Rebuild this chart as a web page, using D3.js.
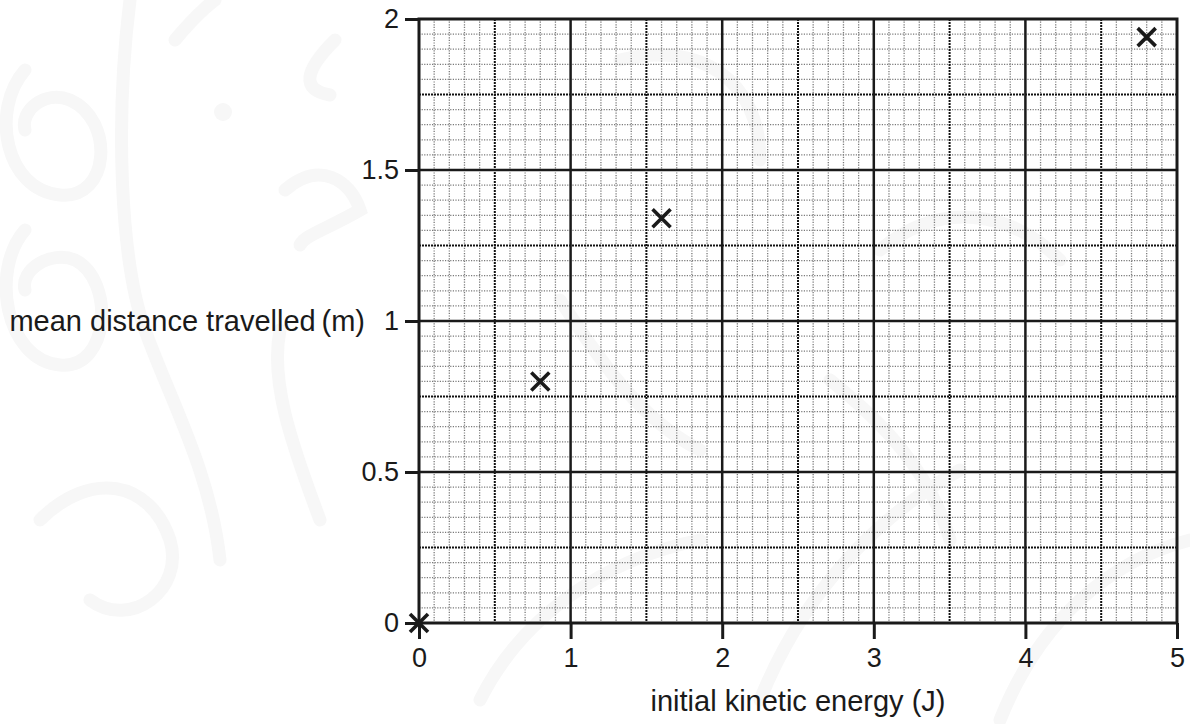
<!DOCTYPE html>
<html>
<head>
<meta charset="utf-8">
<script src="https://cdn.jsdelivr.net/npm/d3@7"></script>
<style>
  html, body { margin: 0; padding: 0; background: #fff; }
  svg { display: block; font-family: "Liberation Sans", Arial, sans-serif; }
</style>
</head>
<body>
<svg id="chart" width="1190" height="724"></svg>
<script>
// Measurements: initial kinetic energy (J) against mean distance travelled (m)
const energy   = [0, 0.8, 1.6, 4.8];
const distance = [0, 0.8, 1.34, 1.94];

const xTickValues = [0, 1, 2, 3, 4, 5];
const xTickLabels = ["0", "1", "2", "3", "4", "5"];
const yTickValues = [0, 0.5, 1, 1.5, 2];
const yTickLabels = ["0", "0.5", "1", "1.5", "2"];

const xTitle = "initial kinetic energy (J)";
const yTitle = "mean distance travelled\u2009(m)";

const svg = d3.select("#chart");
const plot = { left: 419, top: 19, right: 1177, bottom: 623 };

const x = d3.scaleLinear().domain([0, 5]).range([plot.left, plot.right]);
const y = d3.scaleLinear().domain([0, 2]).range([plot.bottom, plot.top]);

// faint decorative background swirls
const deco = svg.append("g")
  .attr("fill", "none")
  .attr("stroke", "#f7f7f7")
  .attr("stroke-width", 13)
  .attr("stroke-linecap", "round");
[
  "M25,70 C-10,110 5,190 60,195 C110,200 115,120 70,100 C45,90 20,110 25,130",
  "M25,230 C-10,270 5,360 60,365 C110,370 115,280 75,260 C50,250 20,270 25,290",
  "M130,0 C115,120 120,260 145,330 C170,400 210,470 220,560",
  "M335,40 C305,70 300,90 330,95",
  "M285,190 C320,160 350,180 360,210 C325,230 305,235 300,245",
  "M280,330 C270,380 290,440 320,520",
  "M175,40 C200,10 215,0 215,0",
  "M480,700 C520,620 600,560 700,540",
  "M760,700 C800,600 870,520 960,470",
  "M1000,720 C1040,620 1110,560 1190,540",
  "M620,60 C700,40 760,80 760,160",
  "M880,250 C940,200 1010,210 1060,260",
  "M560,300 C600,360 640,420 700,450",
  "M830,380 C880,420 930,470 950,540",
  "M40,520 C90,470 150,480 170,540 C185,590 130,630 90,600"
].forEach(d => deco.append("path").attr("d", d));
deco.append("circle").attr("cx", 223).attr("cy", 112).attr("r", 9)
  .attr("fill", "#f7f7f7").attr("stroke", "none");

const grid = svg.append("g");

// minor grid: every 0.1 J and every 0.05 m
const minorX = d3.range(1, 50).map(i => i / 10).filter(v => Math.abs(v * 2 - Math.round(v * 2)) > 1e-6);
const minorY = d3.range(1, 40).map(i => i / 20).filter(v => Math.abs(v * 4 - Math.round(v * 4)) > 1e-6);
grid.selectAll("line.minx").data(minorX).join("line")
  .attr("x1", d => x(d)).attr("x2", d => x(d))
  .attr("y1", plot.top).attr("y2", plot.bottom)
  .attr("stroke", "#7a7a7a").attr("stroke-width", 1.3).attr("stroke-dasharray", "1.2,1.4");
grid.selectAll("line.miny").data(minorY).join("line")
  .attr("y1", d => y(d)).attr("y2", d => y(d))
  .attr("x1", plot.left).attr("x2", plot.right)
  .attr("stroke", "#7a7a7a").attr("stroke-width", 1.3).attr("stroke-dasharray", "1.2,1.4");

// medium grid: every 0.5 J and every 0.25 m
const midX = [0.5, 1.5, 2.5, 3.5, 4.5];
const midY = [0.25, 0.75, 1.25, 1.75];
grid.selectAll("line.midx").data(midX).join("line")
  .attr("x1", d => x(d)).attr("x2", d => x(d))
  .attr("y1", plot.top).attr("y2", plot.bottom)
  .attr("stroke", "#111").attr("stroke-width", 2).attr("stroke-dasharray", "2,1");
grid.selectAll("line.midy").data(midY).join("line")
  .attr("y1", d => y(d)).attr("y2", d => y(d))
  .attr("x1", plot.left).attr("x2", plot.right)
  .attr("stroke", "#111").attr("stroke-width", 2).attr("stroke-dasharray", "2,1");

// major grid: every 1 J and every 0.5 m
grid.selectAll("line.majx").data(xTickValues.slice(1, -1)).join("line")
  .attr("x1", d => x(d)).attr("x2", d => x(d))
  .attr("y1", plot.top).attr("y2", plot.bottom)
  .attr("stroke", "#1a1a1a").attr("stroke-width", 2.5);
grid.selectAll("line.majy").data(yTickValues.slice(1, -1)).join("line")
  .attr("y1", d => y(d)).attr("y2", d => y(d))
  .attr("x1", plot.left).attr("x2", plot.right)
  .attr("stroke", "#1a1a1a").attr("stroke-width", 2.5);

// frame
svg.append("rect")
  .attr("x", plot.left).attr("y", plot.top)
  .attr("width", plot.right - plot.left).attr("height", plot.bottom - plot.top)
  .attr("fill", "none").attr("stroke", "#1a1a1a").attr("stroke-width", 3);

// axes with outward ticks
const xAxis = d3.axisBottom(x).tickValues(xTickValues)
  .tickFormat((d, i) => xTickLabels[i]).tickSize(16).tickPadding(9);
const yAxis = d3.axisLeft(y).tickValues(yTickValues)
  .tickFormat((d, i) => yTickLabels[i]).tickSize(14).tickPadding(6);

const gx = svg.append("g").attr("transform", `translate(0,${plot.bottom})`).call(xAxis);
const gy = svg.append("g").attr("transform", `translate(${plot.left},0)`).call(yAxis);
[gx, gy].forEach(g => {
  g.select(".domain").remove();
  g.selectAll(".tick line").attr("stroke", "#1a1a1a").attr("stroke-width", 3);
  g.selectAll(".tick text").attr("fill", "#1a1a1a")
    .attr("font-size", 27).attr("font-family", "'Liberation Sans', Arial, sans-serif");
});

// axis titles
svg.append("text")
  .attr("x", (plot.left + plot.right) / 2).attr("y", 711)
  .attr("text-anchor", "middle").attr("font-size", 29).attr("fill", "#1a1a1a")
  .text(xTitle);
svg.append("text")
  .attr("x", 365).attr("y", y(1)).attr("dy", "0.35em")
  .attr("text-anchor", "end").attr("font-size", 29).attr("fill", "#1a1a1a")
  .text(yTitle);

// plotted points as crosses
const s = 9;
const pts = svg.append("g").attr("stroke", "#1a1a1a").attr("stroke-width", 3.6).attr("stroke-linecap", "butt");
pts.selectAll("path").data(energy.map((e, i) => [e, distance[i]])).join("path")
  .attr("d", d => {
    const cx = x(d[0]), cy = y(d[1]);
    return `M${cx - s},${cy - s}L${cx + s},${cy + s}M${cx - s},${cy + s}L${cx + s},${cy - s}`;
  });
</script>
</body>
</html>
